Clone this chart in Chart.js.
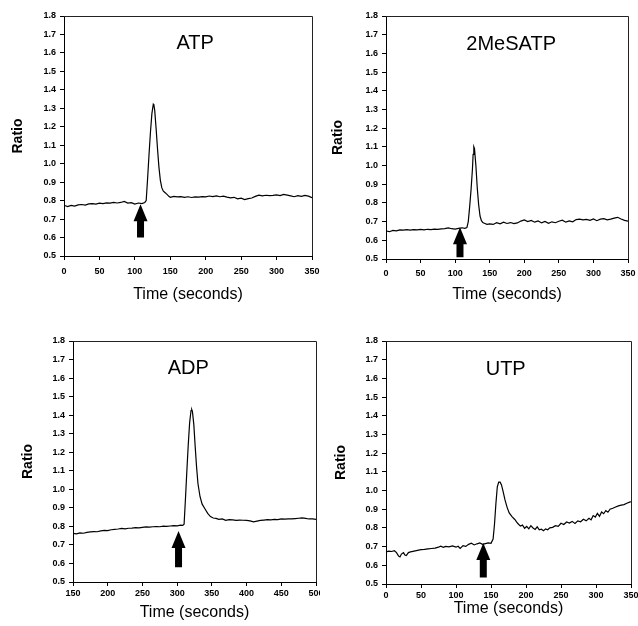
<!DOCTYPE html>
<html>
<head>
<meta charset="utf-8">
<script src="https://cdn.jsdelivr.net/npm/chart.js@4.4.1/dist/chart.umd.min.js"></script>
<style>
  body { margin: 0; background: #fff; }
  #wrap { position: relative; width: 638px; height: 626px; overflow: hidden; }
  #wrap canvas { position: absolute; }
</style>
</head>
<body>
<div id="wrap">
  <canvas id="atpChart" width="320" height="310" style="left:0;top:0"></canvas>
  <canvas id="mesChart" width="318" height="310" style="left:320px;top:0"></canvas>
  <canvas id="adpChart" width="320" height="316" style="left:0;top:310px"></canvas>
  <canvas id="utpChart" width="318" height="316" style="left:320px;top:310px"></canvas>
</div>
<script>
// ============================================================
// DATA
// ============================================================

const yTicks = [0.5, 0.6, 0.7, 0.8, 0.9, 1.0, 1.1, 1.2, 1.3, 1.4, 1.5, 1.6, 1.7, 1.8];

// --- ATP ---
const atpTime = [0, 5, 10, 15, 20, 25, 30, 35, 40, 45, 50, 55, 60, 65, 70, 75, 80, 85, 90, 95, 100, 105, 110, 114,
  116, 118, 120, 122, 124, 126, 127, 128, 130, 132, 134, 136, 138, 140, 142, 145, 148, 150, 155, 160, 165, 170,
  175, 180, 185, 190, 195, 200, 205, 210, 215, 220, 225, 230, 235, 240, 245, 250, 255, 260, 265, 270, 275, 280,
  285, 290, 295, 300, 305, 310, 315, 320, 325, 330, 335, 340, 345, 350];
const atpRatio = [0.775, 0.768, 0.774, 0.770, 0.777, 0.779, 0.776, 0.782, 0.784, 0.781, 0.786, 0.784, 0.788, 0.786,
  0.790, 0.787, 0.790, 0.796, 0.787, 0.789, 0.781, 0.787, 0.784, 0.790,
  0.800, 0.92, 1.05, 1.17, 1.27, 1.322, 1.315, 1.29, 1.19, 1.08, 0.98, 0.91, 0.87, 0.852, 0.845, 0.835, 0.823,
  0.818, 0.823, 0.820, 0.822, 0.818, 0.821, 0.817, 0.820, 0.819, 0.822, 0.820, 0.825, 0.822, 0.826, 0.821, 0.824,
  0.819, 0.815, 0.818, 0.810, 0.813, 0.806, 0.811, 0.814, 0.823, 0.830, 0.826, 0.829, 0.827, 0.828, 0.831, 0.827,
  0.834, 0.830, 0.826, 0.821, 0.827, 0.823, 0.828, 0.824, 0.816];

// --- 2MeSATP ---
const mesTime = [0, 5, 10, 15, 20, 25, 30, 35, 40, 45, 50, 55, 60, 65, 70, 75, 80, 85, 90, 95, 100, 105, 110, 114,
  117, 119, 121, 123, 125, 126, 127, 128, 130, 132, 134, 136, 138, 140, 143, 146, 150, 155, 160, 165, 170, 175,
  180, 185, 190, 195, 200, 205, 210, 215, 220, 225, 230, 235, 240, 245, 250, 255, 260, 265, 270, 275, 280, 285,
  290, 295, 300, 305, 310, 315, 320, 325, 330, 335, 340, 345, 350];
const mesRatio = [0.650, 0.646, 0.653, 0.651, 0.656, 0.654, 0.657, 0.655, 0.657, 0.656, 0.658, 0.656, 0.659, 0.657,
  0.660, 0.658, 0.661, 0.663, 0.666, 0.662, 0.660, 0.664, 0.667, 0.664,
  0.668, 0.70, 0.78, 0.87, 0.98, 1.06, 1.10, 1.09, 1.00, 0.88, 0.79, 0.73, 0.705, 0.695, 0.690, 0.685, 0.688,
  0.685, 0.694, 0.688, 0.697, 0.690, 0.695, 0.689, 0.693, 0.703, 0.709, 0.700, 0.706, 0.697, 0.704, 0.693, 0.701,
  0.691, 0.699, 0.694, 0.702, 0.708, 0.697, 0.704, 0.699, 0.711, 0.713, 0.709, 0.712, 0.707, 0.714, 0.705, 0.713,
  0.716, 0.709, 0.713, 0.719, 0.723, 0.714, 0.707, 0.702];

// --- ADP ---
const adpTime = [150, 155, 160, 165, 170, 175, 180, 185, 190, 195, 200, 205, 210, 215, 220, 225, 230, 235, 240, 245,
  250, 255, 260, 265, 270, 275, 280, 285, 290, 295, 300, 305, 308, 310, 312, 314, 316, 318, 320, 321, 322, 324,
  326, 328, 330, 333, 336, 340, 344, 348, 352, 356, 360, 365, 370, 375, 380, 385, 390, 395, 400, 405, 410, 415,
  420, 425, 430, 435, 440, 445, 450, 455, 460, 465, 470, 475, 480, 485, 490, 495, 500];
const adpRatio = [0.762, 0.760, 0.765, 0.763, 0.768, 0.770, 0.772, 0.771, 0.776, 0.778, 0.777, 0.782, 0.784, 0.786,
  0.789, 0.787, 0.790, 0.791, 0.793, 0.792, 0.795, 0.797, 0.796, 0.798, 0.799, 0.798, 0.801, 0.800, 0.802, 0.804,
  0.803, 0.807, 0.805, 0.812, 0.95, 1.10, 1.24, 1.36, 1.425, 1.43, 1.42, 1.35, 1.23, 1.12, 1.03, 0.96, 0.92, 0.895,
  0.870, 0.853, 0.845, 0.843, 0.838, 0.840, 0.833, 0.836, 0.835, 0.832, 0.834, 0.833, 0.832, 0.830, 0.824, 0.828,
  0.832, 0.834, 0.836, 0.835, 0.838, 0.837, 0.840, 0.839, 0.841, 0.840, 0.842, 0.844, 0.846, 0.843, 0.840, 0.841,
  0.838];

// --- UTP ---
const utpTime = [0, 4, 8, 12, 15, 18, 20, 22, 25, 27, 29, 32, 35, 40, 45, 50, 55, 60, 65, 70, 75, 78, 82, 85, 90, 95,
  100, 103, 106, 110, 114, 118, 122, 126, 130, 134, 138, 142, 146, 150, 153, 155, 157, 159, 161, 163, 165, 167,
  170, 173, 176, 180, 184, 188, 192, 195, 198, 201, 204, 207, 210, 213, 216, 219, 222, 225, 228, 231, 234, 238,
  242, 246, 250, 254, 258, 262, 266, 270, 274, 278, 282, 286, 290, 293, 296, 299, 302, 305, 308, 311, 314, 317,
  320, 324, 328, 332, 336, 340, 344, 348, 350];
const utpRatio = [0.672, 0.676, 0.674, 0.678, 0.668, 0.650, 0.645, 0.660, 0.668, 0.655, 0.652, 0.668, 0.672, 0.676,
  0.680, 0.684, 0.685, 0.688, 0.690, 0.692, 0.697, 0.702, 0.696, 0.701, 0.699, 0.704, 0.697, 0.702, 0.690, 0.705,
  0.701, 0.712, 0.718, 0.709, 0.715, 0.720, 0.712, 0.716, 0.720, 0.718, 0.740, 0.82, 0.93, 1.02, 1.045, 1.045, 1.03,
  1.00, 0.95, 0.91, 0.88, 0.860, 0.845, 0.825, 0.810, 0.815, 0.798, 0.808, 0.795, 0.812, 0.800, 0.792, 0.806, 0.790,
  0.793, 0.785, 0.795, 0.790, 0.800, 0.803, 0.812, 0.808, 0.825, 0.818, 0.832, 0.826, 0.835, 0.824, 0.838, 0.833,
  0.846, 0.838, 0.852, 0.843, 0.866, 0.858, 0.878, 0.862, 0.885, 0.876, 0.893, 0.884, 0.900, 0.905, 0.912, 0.918,
  0.922, 0.925, 0.932, 0.938, 0.940];

// agonist addition arrows: [time, tip ratio, tail ratio]
const atpArrow = [108, 0.78, 0.60];
const mesArrow = [107, 0.67, 0.51];
const adpArrow = [302, 0.775, 0.58];
const utpArrow = [139, 0.72, 0.535];

// ============================================================
// PLUGINS
// ============================================================

const FONT = '"Liberation Sans", Arial, Helvetica, sans-serif';

// Closes the box (top + right edges) around the plot area
const frameBox = {
  id: 'frameBox',
  afterDraw(chart) {
    const { ctx, chartArea: a } = chart;
    ctx.save();
    ctx.strokeStyle = '#222';
    ctx.lineWidth = 1;
    ctx.beginPath();
    ctx.moveTo(a.left, a.top + 0.5);
    ctx.lineTo(a.right + 0.5, a.top + 0.5);
    ctx.lineTo(a.right + 0.5, a.bottom);
    ctx.stroke();
    ctx.restore();
  }
};

// Panel name and the black arrow marking agonist addition
const panelMarks = {
  id: 'panelMarks',
  afterDatasetsDraw(chart, args, opts) {
    const { ctx, scales: { x, y } } = chart;
    ctx.save();
    ctx.fillStyle = '#000';
    ctx.font = '20px ' + FONT;
    ctx.textAlign = 'center';
    ctx.textBaseline = 'middle';
    ctx.fillText(opts.label, x.getPixelForValue(opts.labelAt[0]), y.getPixelForValue(opts.labelAt[1]));

    const [t, tip, tail] = opts.arrow;
    const ax = x.getPixelForValue(t);
    const tipY = y.getPixelForValue(tip);
    const tailY = y.getPixelForValue(tail);
    const headW = 7, headL = 17, shaftW = 3.5;
    ctx.beginPath();
    ctx.moveTo(ax, tipY);
    ctx.lineTo(ax + headW, tipY + headL);
    ctx.lineTo(ax + shaftW, tipY + headL);
    ctx.lineTo(ax + shaftW, tailY);
    ctx.lineTo(ax - shaftW, tailY);
    ctx.lineTo(ax - shaftW, tipY + headL);
    ctx.lineTo(ax - headW, tipY + headL);
    ctx.closePath();
    ctx.fill();
    ctx.restore();
  }
};

// ============================================================
// PANEL BUILDER
// ============================================================

function makePanel(id, cfg) {
  const points = cfg.time.map((t, i) => ({ x: t, y: cfg.ratio[i] }));
  return new Chart(document.getElementById(id).getContext('2d'), {
    type: 'line',
    data: {
      datasets: [{
        data: points,
        borderColor: '#000',
        borderWidth: 1.2,
        pointRadius: 0,
        tension: 0,
        fill: false
      }]
    },
    plugins: [frameBox, panelMarks],
    options: {
      responsive: false,
      animation: false,
      devicePixelRatio: 1,
      layout: { padding: { left: 0, right: cfg.padRight, top: cfg.padTop, bottom: 0 } },
      plugins: {
        legend: { display: false },
        tooltip: { enabled: false },
        panelMarks: { label: cfg.label, labelAt: cfg.labelAt, arrow: cfg.arrow }
      },
      scales: {
        x: {
          type: 'linear',
          min: cfg.xMin,
          max: cfg.xMax,
          // fixed axis height; let the last tick label run past the edge like the original
          afterFit: s => { s.height = cfg.xHeight; s.paddingRight = 0; s.paddingLeft = 0; },
          border: { color: '#000', width: 1 },
          grid: { drawOnChartArea: false, drawTicks: true, tickLength: 4, color: '#000' },
          ticks: {
            stepSize: 50,
            color: '#000',
            padding: cfg.xTickPad,
            maxRotation: 0,
            font: { family: FONT, size: 9, weight: 'bold' }
          },
          title: {
            display: true,
            text: 'Time (seconds)',
            color: '#000',
            padding: { top: 0, bottom: cfg.xTitlePad },
            font: { family: FONT, size: 16 }
          }
        },
        y: {
          min: 0.5,
          max: 1.8,
          afterFit: s => { s.width = cfg.yWidth; },
          afterBuildTicks: s => { s.ticks = yTicks.map(v => ({ value: v })); },
          border: { color: '#000', width: 1 },
          grid: { drawOnChartArea: false, drawTicks: true, tickLength: 4, color: '#000' },
          ticks: {
            color: '#000',
            padding: 4,
            callback: v => v.toFixed(1),
            font: { family: FONT, size: 9, weight: 'bold' }
          },
          title: {
            display: true,
            text: 'Ratio',
            color: '#000',
            padding: { top: cfg.yTitlePad, bottom: 0 },
            font: { family: FONT, size: 14, weight: 'bold' }
          }
        }
      }
    }
  });
}

// ============================================================
// RENDER
// ============================================================

makePanel('atpChart', {
  time: atpTime, ratio: atpRatio, label: 'ATP', labelAt: [185, 1.65], arrow: atpArrow,
  xMin: 0, xMax: 350, yWidth: 64, xHeight: 54, padTop: 16, padRight: 8,
  xTickPad: 6, xTitlePad: 6, yTitlePad: 10
});

makePanel('mesChart', {
  time: mesTime, ratio: mesRatio, label: '2MeSATP', labelAt: [181, 1.65], arrow: mesArrow,
  xMin: 0, xMax: 350, yWidth: 66, xHeight: 51, padTop: 16, padRight: 10,
  xTickPad: 5, xTitlePad: 6, yTitlePad: 10
});

makePanel('adpChart', {
  time: adpTime, ratio: adpRatio, label: 'ADP', labelAt: [316, 1.65], arrow: adpArrow,
  xMin: 150, xMax: 500, yWidth: 73, xHeight: 44, padTop: 31, padRight: 4,
  xTickPad: 2, xTitlePad: 4, yTitlePad: 20
});

makePanel('utpChart', {
  time: utpTime, ratio: utpRatio, label: 'UTP', labelAt: [171, 1.65], arrow: utpArrow,
  xMin: 0, xMax: 350, yWidth: 66, xHeight: 42, padTop: 31, padRight: 7,
  xTickPad: 2, xTitlePad: 8, yTitlePad: 13
});
</script>
</body>
</html>
